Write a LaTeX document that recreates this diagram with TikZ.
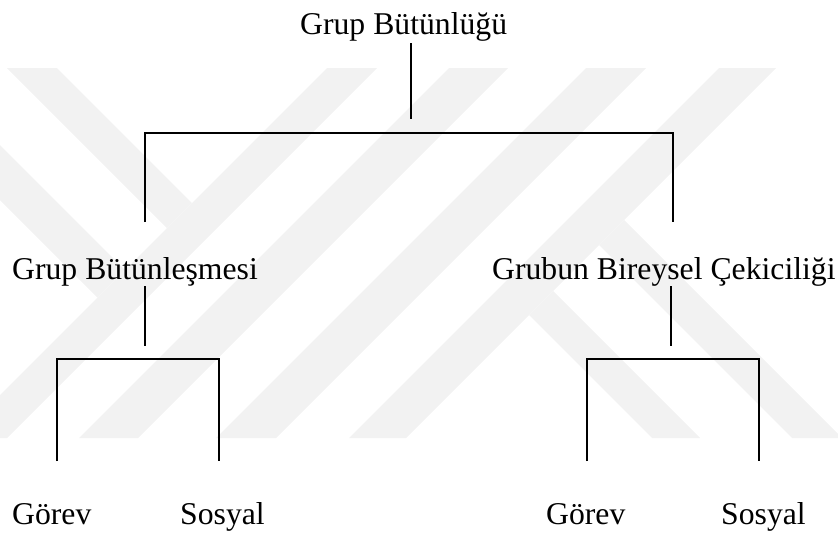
\documentclass[tikz,border=0pt]{standalone}
\usepackage{fontspec}
\setmainfont{Liberation Serif}
\begin{document}
\begin{tikzpicture}[x=1pt,y=-1pt,
  lbl/.style={anchor=base west,inner sep=0pt,font=\fontsize{31.7}{38}\selectfont},
  conn/.style={line width=1.5pt,line cap=butt,line join=miter},
  wm/.style={fill=black!5}]
\useasboundingbox (0,0) rectangle (838,536);
% faint watermark
\begin{scope}
\clip (0,68) rectangle (838,438);
\fill[wm] (7,68) -- (57,68) -- (192,203) -- (167,228) -- cycle;
\fill[wm] (327,68) -- (377,68) -- (7,438) -- (-43,438) -- cycle;
\fill[wm] (-5,140) -- (125,270) -- (97.5,297.5) -- (-5,195) -- cycle;
\fill[wm] (449,68) -- (508,68) -- (138,438) -- (79,438) -- cycle;
\fill[wm] (586,68) -- (646,68) -- (276,438) -- (216,438) -- cycle;
\fill[wm] (719,68) -- (776,68) -- (406,438) -- (349,438) -- cycle;
\fill[wm] (624,220) -- (842,438) -- (792,438) -- (599,245) -- cycle;
\fill[wm] (553,291) -- (700,438) -- (652,438) -- (529,315) -- cycle;
\end{scope}
% labels
\node[lbl] (top) at (300,34) {Grup Bütünlüğü};
\node[lbl] (gb) at (12,279) {Grup Bütünleşmesi};
\node[lbl] (bc) at (492,279) {Grubun Bireysel Çekiciliği};
\node[lbl] (g1) at (12,524) {Görev};
\node[lbl] (s1) at (180,524) {Sosyal};
\node[lbl] (g2) at (546,524) {Görev};
\node[lbl] (s2) at (721,524) {Sosyal};
% connector points
\coordinate (t0) at (411,43);
\coordinate (t1) at (411,119);
\coordinate (tl) at (145,222);
\coordinate (tr) at (673,222);
\coordinate (tj) at (411,133);
\coordinate (l0) at (145,286);
\coordinate (l1) at (145,346);
\coordinate (lj) at (145,359);
\coordinate (la) at (57,461);
\coordinate (lb) at (219,461);
\coordinate (r0) at (671,286);
\coordinate (r1) at (671,346);
\coordinate (rj) at (671,359);
\coordinate (ra) at (587,461);
\coordinate (rb) at (759,461);
% connectors
\draw[conn] (t0) -- (t1);
\draw[conn] (tl) |- (tj) -| (tr);
\draw[conn] (l0) -- (l1);
\draw[conn] (la) |- (lj) -| (lb);
\draw[conn] (r0) -- (r1);
\draw[conn] (ra) |- (rj) -| (rb);
\end{tikzpicture}
\end{document}
